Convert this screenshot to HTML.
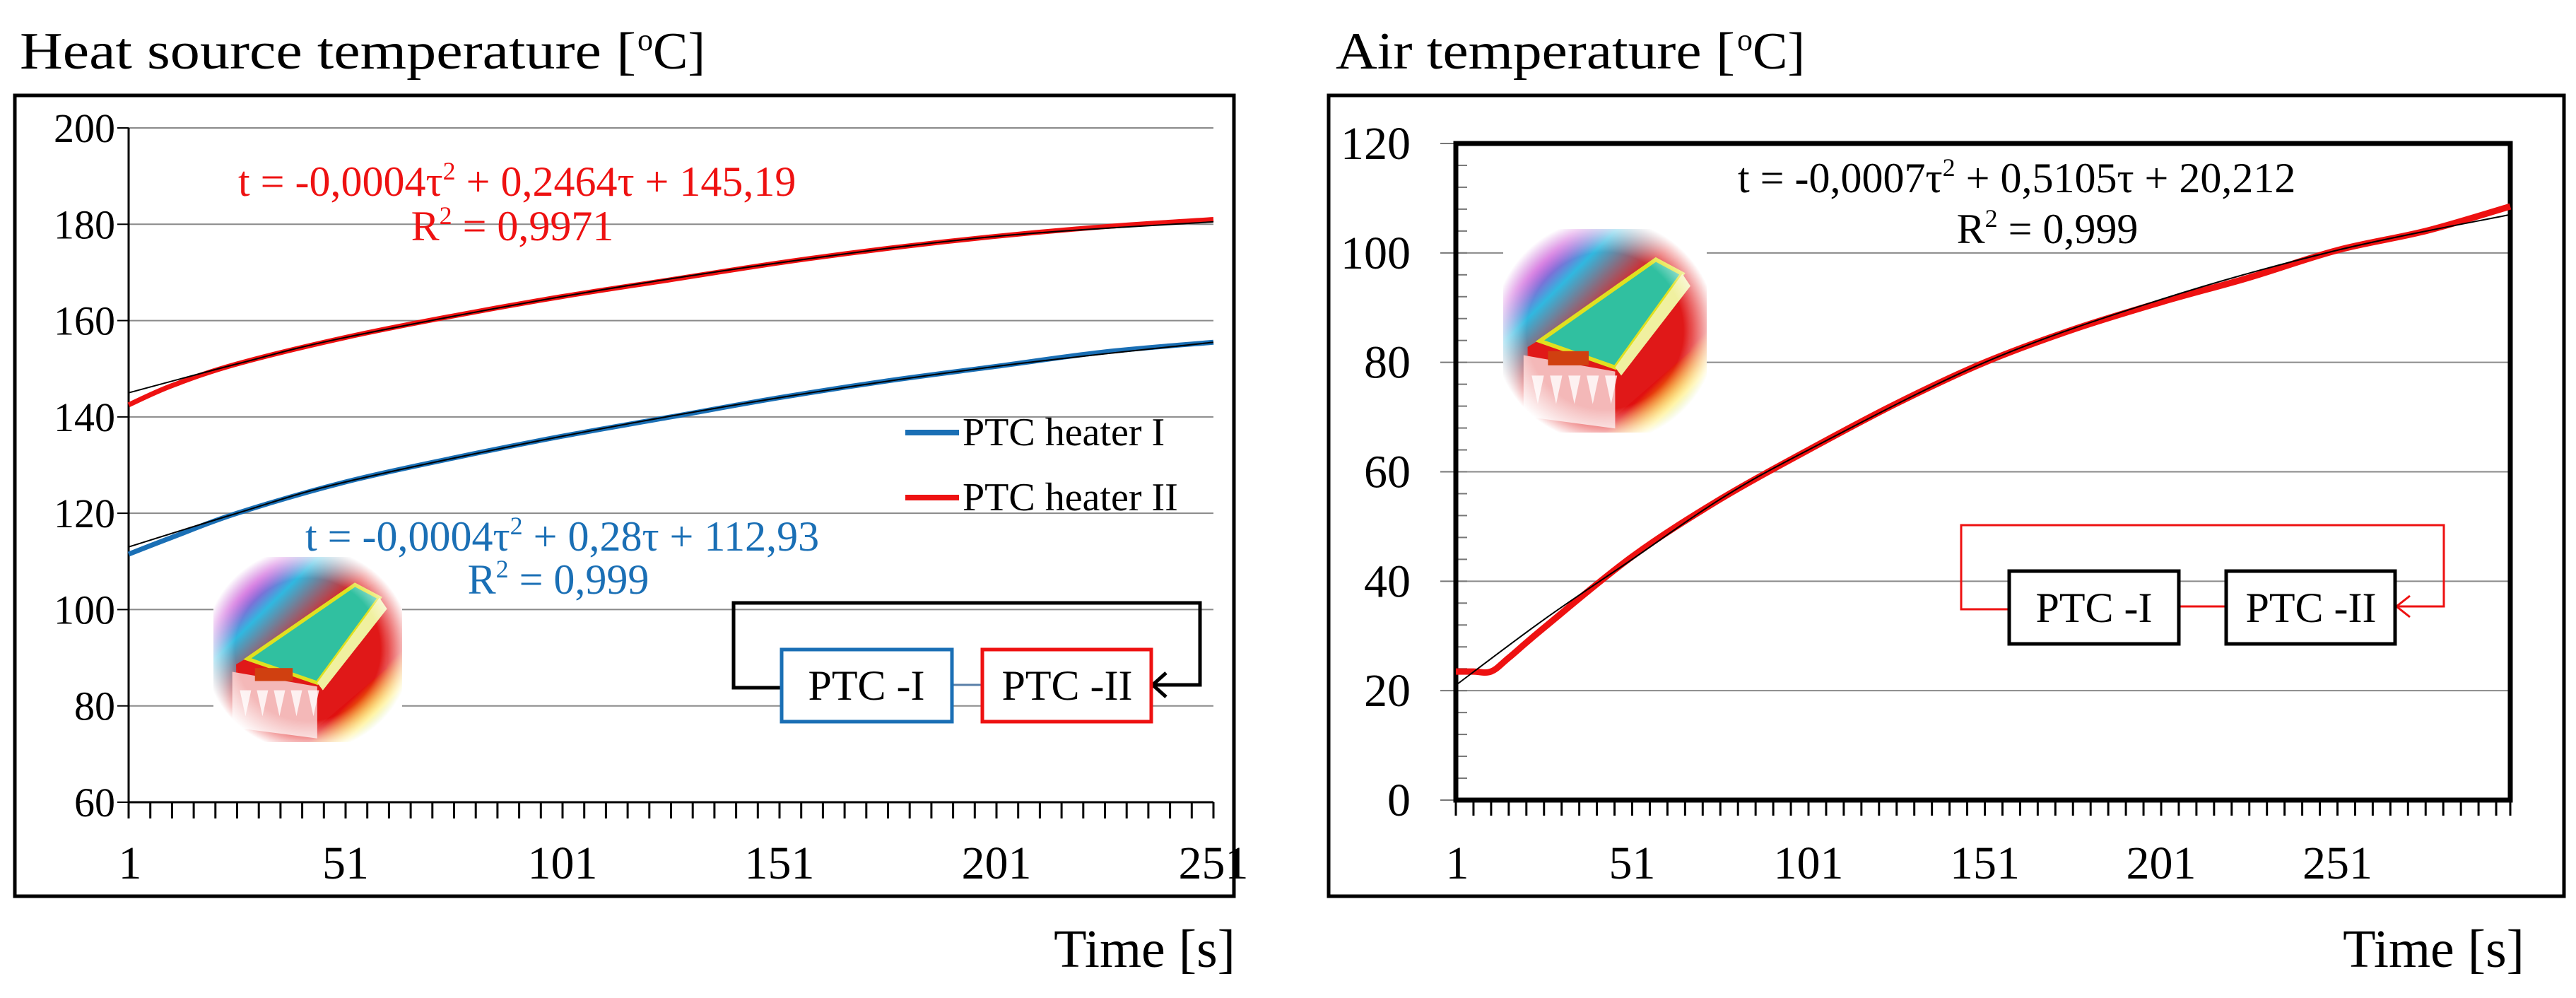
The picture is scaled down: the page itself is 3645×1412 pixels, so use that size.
<!DOCTYPE html>
<html><head><meta charset="utf-8"><style>
html,body{margin:0;padding:0;background:#fff;}
svg{display:block;}
text{font-family:"Liberation Serif",serif;}
</style></head><body>
<svg id="svg" width="3645" height="1412" viewBox="0 0 3645 1412" xmlns="http://www.w3.org/2000/svg">
<defs>
<radialGradient id="glow" cx="0.5" cy="0.5" r="0.55">
<stop offset="0.7" stop-color="#fff" stop-opacity="0"/><stop offset="1" stop-color="#fff" stop-opacity="1"/>
</radialGradient>
<linearGradient id="bgT" x1="0" y1="0" x2="1" y2="1">
<stop offset="0" stop-color="#8a2aa0"/><stop offset="0.18" stop-color="#c030d0"/><stop offset="0.28" stop-color="#30b8e0"/><stop offset="0.45" stop-color="#e02020"/><stop offset="0.75" stop-color="#e01010"/><stop offset="0.85" stop-color="#ffe000"/><stop offset="0.95" stop-color="#20c040"/>
</linearGradient>
</defs>
<g id="root"></g>
</svg>
<script>
// ---------- data: heat source chart ----------
const hsTime = [1, 11, 26, 51, 76, 101, 126, 151, 176, 201, 226, 251];
const hsHeaterII = [142.5, 146.5, 151, 156.5, 161, 165, 168.5, 172, 175, 177.5, 179.5, 181];
const hsHeaterI = [111.5, 115, 120, 126.5, 131.5, 136, 140, 144, 147.5, 150.5, 153.5, 155.5];
const hsFitTime = [1, 26, 51, 101, 151, 201, 251];
const hsFitII = [145, 151, 156.5, 165, 172, 177.5, 180.5];
const hsFitI = [113, 120, 126.5, 136, 144, 150.5, 155.5];
const hsYTicks = [60, 80, 100, 120, 140, 160, 180, 200];
const hsXLabels = [1, 51, 101, 151, 201, 251];
// ---------- data: air chart ----------
const airTime = [1, 6, 11, 16, 26, 51, 76, 101, 126, 151, 176, 201, 226, 251, 276, 300];
const airTemp = [23.5, 23.5, 23.5, 26, 31.5, 44.5, 55, 64, 72.5, 80, 86, 91, 95.5, 100.5, 104, 108.5];
const airFitTime = [1, 26, 51, 76, 101, 151, 201, 251, 300];
const airFit = [21, 33, 44, 55, 64, 80, 91.5, 100.5, 107];
const airYTicks = [0, 20, 40, 60, 80, 100, 120];
const airXLabels = [1, 51, 101, 151, 201, 251];

const NS = "http://www.w3.org/2000/svg";
const root = document.getElementById('root');
function el(tag, attrs, parent, txt){
  const e = document.createElementNS(NS, tag);
  for (const k in attrs) e.setAttribute(k, attrs[k]);
  if (txt !== undefined) e.textContent = txt;
  (parent || root).appendChild(e);
  return e;
}
function smoothPath(pts){
  let d = `M${pts[0][0]},${pts[0][1]}`;
  for (let i=0;i<pts.length-1;i++){
    const p0=pts[i-1]||pts[i], p1=pts[i], p2=pts[i+1], p3=pts[i+2]||p2;
    const c1x=p1[0]+(p2[0]-p0[0])/6, c1y=p1[1]+(p2[1]-p0[1])/6;
    const c2x=p2[0]-(p3[0]-p1[0])/6, c2y=p2[1]-(p3[1]-p1[1])/6;
    d += ` C${c1x},${c1y} ${c2x},${c2y} ${p2[0]},${p2[1]}`;
  }
  return d;
}
function thermal(x, y, w, h, name){
  const g = el('g', {transform:`translate(${x},${y}) scale(${w/100},${h/100})`});
  
  
  el('rect', {x:0,y:0,width:100,height:100,fill:'url(#bgT)'}, g);
  el('polygon', {points:'12,58 75,20 92,10 92,60 55,92 12,92', fill:'#e01818'}, g);
  el('polygon', {points:'10,62 55,70 55,98 10,92', fill:'#f4b8b8'}, g);
  el('polygon', {points:'18,55 75,15 88,22 55,68', fill:'#30c0a0', stroke:'#e0e020', 'stroke-width':2}, g);
  el('polygon', {points:'55,68 88,22 92,28 58,72', fill:'#f0f0a0'}, g);
  el('rect', {x:22,y:60,width:20,height:7,fill:'#d04010'}, g);
  for (let i=0;i<5;i++) el('polygon', {points:`${14+i*9},72 ${20+i*9},72 ${17+i*9},86`, fill:'#fff', opacity:0.8}, g);
  el('rect', {x:0,y:0,width:100,height:100,fill:'url(#glow)'}, g);
}

// ================= LEFT CHART =================
{
  const X0=182, X1=1717, Y0=1135, Y1=181, xmin=1, xmax=251, ymin=60, ymax=200;
  const sx = v => X0 + (v-xmin)/(xmax-xmin)*(X1-X0);
  const sy = v => Y0 - (v-ymin)/(ymax-ymin)*(Y0-Y1);
  const t = el('text', {x:28, y:97, 'font-size':74, fill:'#000', textLength:872, lengthAdjust:'spacingAndGlyphs'}, root, 'Heat source temperature [');
   
  const ts = el('text', {x:902, y:97, 'font-size':74, fill:'#000'}, root);
   
  el('tspan', {'font-size':44, dy:-26}, ts, 'o'); el('tspan', {dy:26}, ts, 'C]');
  const fr = el('rect', {x:21, y:135, width:1725, height:1133, fill:'none', stroke:'#000', 'stroke-width':5});
   
  for (const v of hsYTicks){
    if (v!==ymin){ const g=el('line',{x1:X0,x2:X1,y1:sy(v),y2:sy(v),stroke:'#8a8a8a','stroke-width':2});
        }
    el('line',{x1:X0-16,x2:X0,y1:sy(v),y2:sy(v),stroke:'#000','stroke-width':2});
    const l = el('text',{x:163,y:sy(v)+20,'font-size':58,'text-anchor':'end',fill:'#000'},root,String(v));
     
  }
  el('line',{x1:X0,x2:X0,y1:Y1,y2:Y0,stroke:'#000','stroke-width':3});
  el('line',{x1:X0,x2:X1,y1:Y0,y2:Y0,stroke:'#000','stroke-width':3});
  for (let v=xmin; v<=xmax; v+=5) el('line',{x1:sx(v),x2:sx(v),y1:Y0,y2:Y0+23,stroke:'#000','stroke-width':3});
  for (const v of hsXLabels){
    const l=el('text',{x:sx(v)+ (v===1?2:0),y:1243,'font-size':66,'text-anchor':'middle',fill:'#000'},root,String(v));
     
  }
  const xt=el('text',{x:1748,y:1368,'font-size':76,'text-anchor':'end',fill:'#000'},root,'Time [s]');
   

  thermal(302, 788, 267, 262, 'left-thermal-image');

  const s1 = el('path',{d:smoothPath(hsTime.map((v,i)=>[sx(v),sy(hsHeaterII[i])])),fill:'none',stroke:'#ee1111','stroke-width':7});
   
  const s2 = el('path',{d:smoothPath(hsTime.map((v,i)=>[sx(v),sy(hsHeaterI[i])])),fill:'none',stroke:'#1a6fb5','stroke-width':7});
   
  const f1 = el('path',{d:smoothPath(hsFitTime.map((v,i)=>[sx(v),sy(hsFitII[i])])),fill:'none',stroke:'#000','stroke-width':2});
   
  const f2 = el('path',{d:smoothPath(hsFitTime.map((v,i)=>[sx(v),sy(hsFitI[i])])),fill:'none',stroke:'#000','stroke-width':2});
   

  const e1=el('text',{x:337,y:277,'font-size':60,fill:'#ee1111'},root);
   
  el('tspan',{},e1,'t = -0,0004τ'); el('tspan',{'font-size':36,dy:-23},e1,'2'); el('tspan',{dy:23},e1,' + 0,2464τ + 145,19');
  const r1=el('text',{x:725,y:340,'font-size':60,fill:'#ee1111','text-anchor':'middle'},root);
   
  el('tspan',{},r1,'R'); el('tspan',{'font-size':36,dy:-23},r1,'2'); el('tspan',{dy:23},r1,' = 0,9971');
  const e2=el('text',{x:432,y:779,'font-size':60,fill:'#1a6fb5'},root);
   
  el('tspan',{},e2,'t = -0,0004τ'); el('tspan',{'font-size':36,dy:-23},e2,'2'); el('tspan',{dy:23},e2,' + 0,28τ + 112,93');
  const r2=el('text',{x:790,y:840,'font-size':60,fill:'#1a6fb5','text-anchor':'middle'},root);
   
  el('tspan',{},r2,'R'); el('tspan',{'font-size':36,dy:-23},r2,'2'); el('tspan',{dy:23},r2,' = 0,999');

  // legend
  const lg = el('g',{});  
  el('line',{x1:1281,x2:1357,y1:612,y2:612,stroke:'#1a6fb5','stroke-width':8},lg);
  const le1=el('text',{x:1362,y:630,'font-size':56,fill:'#000'},lg,'PTC heater  I');
   
  el('line',{x1:1281,x2:1357,y1:704,y2:704,stroke:'#ee1111','stroke-width':8},lg);
  const le2=el('text',{x:1362,y:722,'font-size':56,fill:'#000'},lg,'PTC heater  II');
   

  // diagram
  const dg=el('g',{});  
  el('polyline',{points:'1106,973 1038,973 1038,853 1698,853 1698,969 1629,969',fill:'none',stroke:'#000','stroke-width':5},dg);
  el('polyline',{points:'1650,952 1631,969 1650,986',fill:'none',stroke:'#000','stroke-width':5},dg);
  el('line',{x1:1347,x2:1390,y1:969,y2:969,stroke:'#5a7fa8','stroke-width':3},dg);
  el('rect',{x:1106,y:919,width:241,height:102,fill:'#fff',stroke:'#1a6fb5','stroke-width':5},dg);
  el('rect',{x:1390,y:919,width:239,height:102,fill:'#fff',stroke:'#ee1111','stroke-width':5},dg);
  el('text',{x:1226,y:990,'font-size':60,'text-anchor':'middle',fill:'#000'},dg,'PTC -I');
  el('text',{x:1510,y:990,'font-size':60,'text-anchor':'middle',fill:'#000'},dg,'PTC -II');
}

// ================= RIGHT CHART =================
{
  const X0=2060, X1=3552, Y0=1132, Y1=203, xmin=1, xmax=300, ymin=0, ymax=120;
  const sx = v => X0 + (v-xmin)/(xmax-xmin)*(X1-X0);
  const sy = v => Y0 - (v-ymin)/(ymax-ymin)*(Y0-Y1);
  const t = el('text', {x:1890, y:97, 'font-size':74, fill:'#000', textLength:565, lengthAdjust:'spacingAndGlyphs'}, root, 'Air temperature [');
   
  const ts = el('text', {x:2458, y:97, 'font-size':74, fill:'#000'}, root);
   
  el('tspan', {'font-size':44, dy:-26}, ts, 'o'); el('tspan', {dy:26}, ts, 'C]');
  const fr = el('rect', {x:1880, y:135, width:1748, height:1133, fill:'none', stroke:'#000', 'stroke-width':5});
   
  for (const v of airYTicks){
    if (v!==ymin && v!==ymax){ const g=el('line',{x1:X0,x2:X1,y1:sy(v),y2:sy(v),stroke:'#8a8a8a','stroke-width':2});
        }
    el('line',{x1:X0-22,x2:X0,y1:sy(v),y2:sy(v),stroke:'#777','stroke-width':2});
    const l = el('text',{x:1996,y:sy(v)+22,'font-size':66,'text-anchor':'end',fill:'#000'},root,String(v));
     
  }
  for (let v=ymin+4; v<ymax; v+=4) el('line',{x1:X0,x2:X0+16,y1:sy(v),y2:sy(v),stroke:'#777','stroke-width':2});
  const pa=el('rect',{x:X0,y:Y1,width:X1-X0,height:Y0-Y1,fill:'none',stroke:'#000','stroke-width':7});
   
  for (let v=xmin; v<=xmax+1; v+=5) el('line',{x1:sx(Math.min(v,xmax)),x2:sx(Math.min(v,xmax)),y1:Y0,y2:Y0+22,stroke:'#000','stroke-width':3});
  for (const v of airXLabels){
    const l=el('text',{x:sx(v)+(v===1?2:0),y:1243,'font-size':66,'text-anchor':'middle',fill:'#000'},root,String(v));
     
  }
  const xt=el('text',{x:3572,y:1368,'font-size':76,'text-anchor':'end',fill:'#000'},root,'Time [s]');
   

  thermal(2127, 324, 288, 288, 'right-thermal-image');

  const s = el('path',{d:smoothPath(airTime.map((v,i)=>[sx(v),sy(airTemp[i])])),fill:'none',stroke:'#ee1111','stroke-width':9});
   
  const f = el('path',{d:smoothPath(airFitTime.map((v,i)=>[sx(v),sy(airFit[i])])),fill:'none',stroke:'#000','stroke-width':2});
   

  const e1=el('text',{x:2459,y:272,'font-size':60,fill:'#000'},root);
   
  el('tspan',{},e1,'t = -0,0007τ'); el('tspan',{'font-size':36,dy:-23},e1,'2'); el('tspan',{dy:23},e1,' + 0,5105τ + 20,212');
  const r1=el('text',{x:2897,y:344,'font-size':60,fill:'#000','text-anchor':'middle'},root);
   
  el('tspan',{},r1,'R'); el('tspan',{'font-size':36,dy:-23},r1,'2'); el('tspan',{dy:23},r1,' = 0,999');

  const dg=el('g',{});  
  el('polyline',{points:'2843,862 2775,862 2775,743 3458,743 3458,858 3389,858',fill:'none',stroke:'#ee1111','stroke-width':3},dg);
  el('polyline',{points:'3410,843 3391,858 3410,873',fill:'none',stroke:'#ee1111','stroke-width':3},dg);
  el('line',{x1:3083,x2:3150,y1:858,y2:858,stroke:'#ee1111','stroke-width':3},dg);
  el('rect',{x:2843,y:808,width:240,height:103,fill:'#fff',stroke:'#000','stroke-width':5},dg);
  el('rect',{x:3150,y:808,width:239,height:103,fill:'#fff',stroke:'#000','stroke-width':5},dg);
  el('text',{x:2963,y:880,'font-size':60,'text-anchor':'middle',fill:'#000'},dg,'PTC -I');
  el('text',{x:3270,y:880,'font-size':60,'text-anchor':'middle',fill:'#000'},dg,'PTC -II');
}
</script>
</body></html>
